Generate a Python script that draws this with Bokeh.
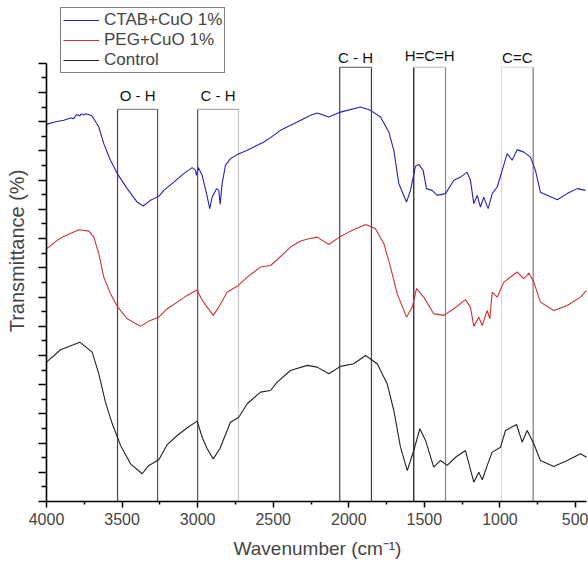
from bokeh.plotting import figure
from bokeh.models import Range1d, FixedTicker, Legend, LegendItem, ColumnDataSource, CustomLabelingPolicy
from bokeh.embed import file_html
from bokeh.resources import INLINE
from bokeh.core.properties import value

# ---------------- data ----------------
ctab_wn = [4000, 3940, 3886, 3840, 3820, 3805, 3797, 3780, 3770, 3755, 3742, 3720, 3700, 3687,
           3654, 3621, 3577, 3532, 3466, 3400, 3360, 3312, 3257, 3224, 3158, 3092, 3036,
           3014, 3008, 2996, 2970, 2941, 2920, 2904, 2875, 2860, 2851, 2838, 2816, 2783,
           2738, 2672, 2562, 2518, 2452, 2341, 2253, 2209, 2132, 2055, 1922, 1856, 1790,
           1735, 1702, 1669, 1618, 1592, 1559, 1537, 1508, 1486, 1448, 1415, 1360, 1305,
           1261, 1217, 1195, 1173, 1150, 1129, 1107, 1078, 1051, 1018, 985, 952, 919, 886,
           842, 798, 765, 732, 687, 621, 555, 489, 434]
ctab_t = [25.82, 26.00, 26.10, 26.25, 26.20, 26.45, 26.49, 26.40, 26.55, 26.45, 26.55, 26.50, 26.40, 26.21,
          25.64, 24.50, 23.36, 22.45, 21.42, 20.50, 20.23, 20.62, 20.89, 21.30, 21.87, 22.45, 22.86,
          22.67, 22.33, 22.86, 22.33, 21.08, 20.05, 20.84, 21.42, 21.30, 20.34, 21.76, 23.01, 23.47,
          23.75, 24.04, 24.61, 24.91, 25.41, 25.98, 26.44, 26.60, 26.32, 26.66, 27.01, 26.78, 26.32,
          25.29, 24.04, 21.76, 20.50, 21.30, 22.95, 23.08, 22.67, 21.42, 21.30, 20.96, 21.08, 21.99,
          22.21, 22.55, 21.99, 20.39, 20.96, 20.16, 20.84, 20.05, 21.08, 21.53, 22.67, 23.82, 23.36, 24.09,
          23.92, 23.58, 22.67, 21.18, 20.96, 20.66, 21.08, 21.42, 21.30]

peg_wn = [4000, 3929, 3886, 3786, 3720, 3687, 3654, 3621, 3577, 3532, 3466, 3378, 3323, 3257,
          3201, 3135, 3069, 3003, 2976, 2937, 2897, 2860, 2804, 2738, 2672, 2584, 2518, 2474,
          2386, 2319, 2265, 2209, 2132, 2055, 1989, 1889, 1823, 1768, 1724, 1680, 1618, 1580,
          1552, 1504, 1438, 1371, 1305, 1228, 1195, 1173, 1140, 1117, 1084, 1067, 1051, 1018,
          974, 886, 842, 809, 776, 732, 644, 555, 467, 427]
peg_t = [17.31, 17.88, 18.15, 18.61, 18.51, 18.10, 16.97, 15.36, 14.23, 13.36, 12.51, 11.99, 12.35, 12.62,
         13.20, 13.65, 14.11, 14.50, 13.88, 13.31, 12.74, 13.31, 14.34, 14.73, 15.36, 16.05, 16.16, 16.55,
         17.42, 17.84, 17.99, 18.10, 17.60, 18.15, 18.51, 18.97, 18.68, 17.65, 16.05, 14.23, 12.62, 13.31,
         14.57, 13.99, 12.86, 12.74, 13.20, 13.82, 13.31, 11.99, 12.62, 12.05, 13.08, 12.51, 14.34, 13.99,
         15.02, 15.71, 15.25, 15.64, 15.02, 13.65, 13.08, 13.42, 13.99, 14.45]

ctrl_wn = [4000, 3907, 3780, 3698, 3654, 3610, 3565, 3510, 3444, 3367, 3323, 3257, 3201, 3135,
           3069, 3003, 2970, 2937, 2897, 2853, 2783, 2728, 2672, 2584, 2518, 2474, 2386, 2275,
           2209, 2132, 2055, 1967, 1889, 1812, 1746, 1702, 1658, 1613, 1570, 1530, 1492, 1438,
           1393, 1349, 1294, 1228, 1173, 1140, 1117, 1084, 1051, 996, 963, 890, 853, 820, 776,
           732, 644, 555, 467, 427]
ctrl_t = [9.54, 10.39, 10.91, 10.23, 8.75, 6.80, 5.32, 3.84, 2.58, 1.90, 2.47, 2.86, 3.90, 4.52,
          5.05, 5.50, 4.40, 3.61, 2.92, 3.61, 5.43, 5.77, 6.69, 7.49, 7.60, 8.17, 8.97, 9.32,
          9.20, 8.75, 9.25, 9.43, 10.00, 9.43, 8.06, 6.23, 3.72, 2.12, 3.49, 4.98, 4.18, 2.35,
          2.81, 2.47, 3.03, 3.49, 1.32, 2.01, 1.49, 2.47, 3.38, 3.72, 4.86, 5.27, 4.06, 4.86, 3.95,
          2.81, 2.40, 2.81, 3.27, 3.03]

series_names = ["CTAB+CuO 1%", "PEG+CuO 1%", "Control"]

band_labels = ["O - H", "C - H", "C - H", "H=C=H", "C=C"]
band_hi = [3530, 3000, 2060, 1570, 990]
band_lo = [3265, 2730, 1850, 1360, 780]
band_top = [26.85, 26.85, 29.73, 29.73, 29.73]

x_major = [4000, 3500, 3000, 2500, 2000, 1500, 1000, 500]
x_minor = [3750, 3250, 2750, 2250, 1750, 1250, 750]

# ---------------- styles ----------------
FONT = "Liberation Sans"
left_cols = ["#444444", "#555555", "#444444", "#111111", "#d8d8d8"]
right_cols = ["#555555", "#c8c8c8", "#444444", "#888888", "#777777"]
top_cols = ["#888888", "#aaaaaa", "#555555", "#bbbbbb", "#d8d8d8"]
label_offsets = [-14, -14, -10, -12, -10]

p = figure(width=588, height=567, output_backend="svg", toolbar_location=None,
           x_range=Range1d(4000, 414), y_range=Range1d(0, 34.3),
           min_border_left=46, min_border_right=0, min_border_top=0, min_border_bottom=66)
p.outline_line_color = None
p.grid.visible = False
p.background_fill_color = "white"
p.border_fill_color = "white"

# bands
band_src = ColumnDataSource(dict(
    hi=band_hi, lo=band_lo, top=band_top, zero=[0] * len(band_hi),
    mid=[(a + b) / 2 for a, b in zip(band_hi, band_lo)], lab=band_labels,
    lc=left_cols, rc=right_cols, tc=top_cols, yoff=label_offsets))
p.segment(x0="hi", y0="zero", x1="hi", y1="top", source=band_src, line_color="lc", line_width=1.2)
p.segment(x0="lo", y0="zero", x1="lo", y1="top", source=band_src, line_color="rc", line_width=1.2)
p.segment(x0="hi", y0="top", x1="lo", y1="top", source=band_src, line_color="tc", line_width=1.2)
p.text(x="mid", y="top", text="lab", y_offset="yoff", source=band_src,
       text_font=value(FONT), text_font_size=value("15px"), text_color="#111111",
       text_align="center", text_baseline="middle")

# spectra
r1 = p.line(ctab_wn, ctab_t, line_color="#2424b4", line_width=1.1)
r2 = p.line(peg_wn, peg_t, line_color="#cc3333", line_width=1.1)
r3 = p.line(ctrl_wn, ctrl_t, line_color="#222222", line_width=1.1)

legend = Legend(items=[LegendItem(label=series_names[0], renderers=[r1]),
                       LegendItem(label=series_names[1], renderers=[r2]),
                       LegendItem(label=series_names[2], renderers=[r3])],
                location=(14, 428))
legend.label_text_font = FONT
legend.label_text_font_size = "17px"
legend.border_line_color = "black"
legend.border_line_width = 1
legend.background_fill_alpha = 1
legend.glyph_width = 36
legend.glyph_height = 20
legend.label_height = 20
legend.label_standoff = 5
legend.spacing = 0
legend.padding = 2
legend.margin = 0
p.add_layout(legend)

# axes
xa = p.xaxis[0]
xa.ticker = FixedTicker(ticks=x_major, minor_ticks=x_minor)
xa.bounds = (427, 4000)
xa.axis_label = "Wavenumber (cm\u207b\u00b9)"
xa.axis_label_text_font = FONT
xa.axis_label_text_font_size = "19px"
xa.axis_label_text_font_style = "normal"
xa.axis_label_standoff = 10
xa.major_label_text_font = FONT
xa.major_label_text_font_size = "16px"
xa.major_label_standoff = 5
xa.major_tick_out = 6
xa.major_tick_in = 0
xa.minor_tick_out = 3
xa.minor_tick_in = 0
xa.axis_line_width = 1.6
xa.major_tick_line_width = 1.5
xa.minor_tick_line_width = 1.5

ya = p.yaxis[0]
ya.ticker = FixedTicker(ticks=list(range(0, 31, 2)), minor_ticks=list(range(1, 30, 2)))
ya.bounds = (0, 30)
ya.axis_label = "Transmittance (%)"
ya.axis_label_text_font = FONT
ya.axis_label_text_font_size = "20px"
ya.axis_label_text_font_style = "normal"
ya.axis_label_standoff = 11
ya.major_label_text_font_size = "0px"
ya.major_label_standoff = 0
ya.major_label_policy = CustomLabelingPolicy(
    code="const n = indices.size; for (let i = 0; i < n; i++) { indices.unset(i) } return indices")
ya.major_tick_out = 8
ya.major_tick_in = 0
ya.minor_tick_out = 5
ya.minor_tick_in = 0
ya.axis_line_width = 1.6
ya.major_tick_line_width = 1.5
ya.minor_tick_line_width = 1.5

open("out.html", "w").write(file_html(p, INLINE))
